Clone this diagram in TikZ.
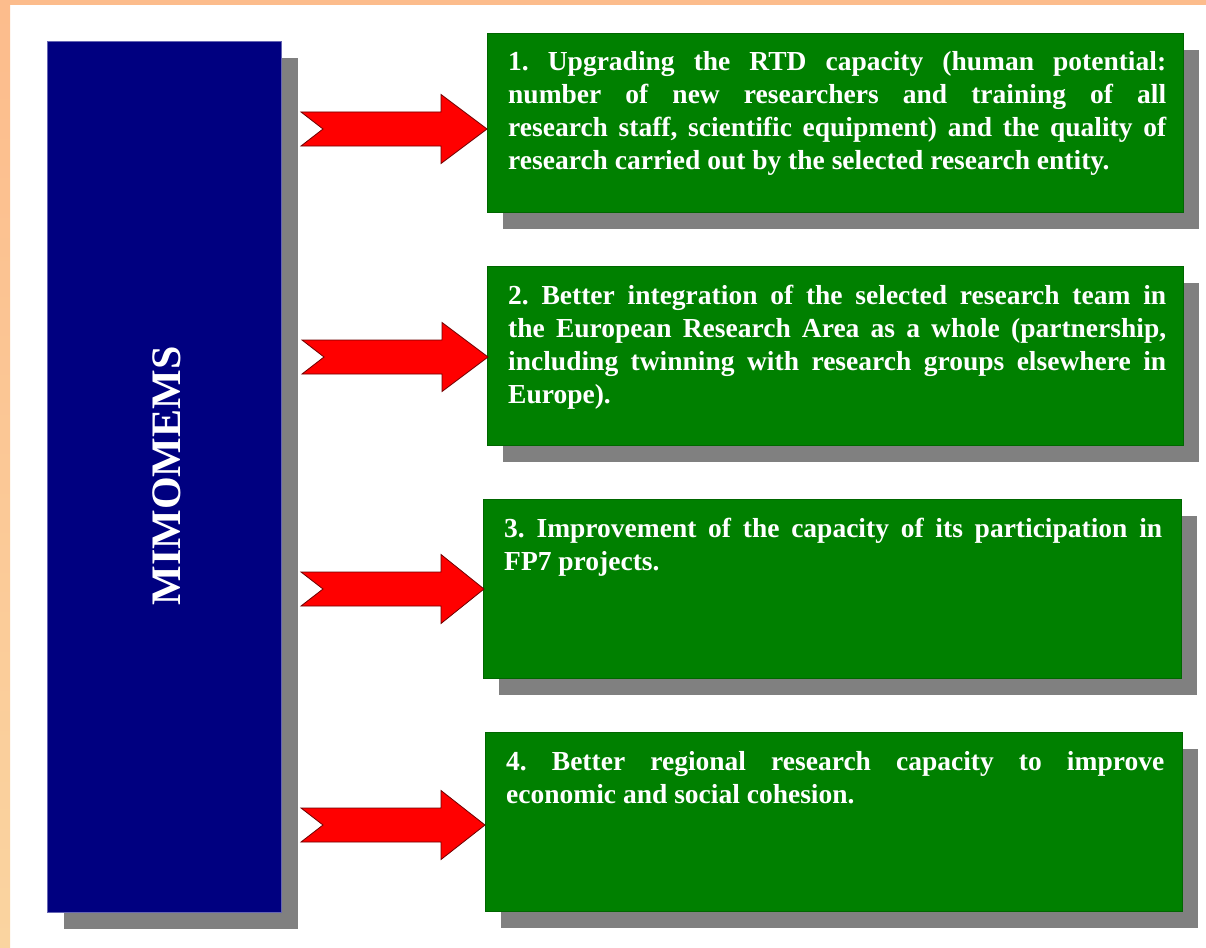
\documentclass[tikz,border=0pt]{standalone}
\usepackage{fontspec}
\setmainfont{Liberation Serif}
\hbadness=10000 \hfuzz=20pt
\frenchspacing
\definecolor{navybox}{RGB}{0,0,128}
\definecolor{greenbox}{RGB}{0,128,0}
\definecolor{shadowgrey}{RGB}{128,128,128}
\definecolor{arrowred}{RGB}{255,0,0}
\definecolor{arrowedge}{RGB}{110,0,0}
\definecolor{orangetop}{RGB}{252,188,140}
\definecolor{orangebot}{RGB}{250,212,160}
\begin{document}
\begin{tikzpicture}[x=1pt,y=-1pt,
  shadowbox/.style={fill=shadowgrey,draw=none},
  greenrect/.style={fill=greenbox,draw=greenbox!80!black,line width=0.6pt},
  bluerect/.style={fill=navybox,draw=navybox!60!white,line width=0.6pt},
  boxtext/.style={anchor=base west,inner sep=0pt,text width=658pt,align=justify,text=white,
    font=\bfseries\fontsize{27.5}{33}\selectfont},
  blockarrow/.style={fill=arrowred,draw=arrowedge,line width=0.8pt,line join=miter}]
\useasboundingbox (0,0) rectangle (1206,947);
\fill[white] (0,0) rectangle (1206,947);
% orange frame
\fill[orangetop] (0,0) rectangle (1206,5);
\shade[top color=orangetop,bottom color=orangebot,draw=none] (0,0) rectangle (10,947);
% blue box
\fill[shadowbox] (64,58) rectangle (298,929);
\draw[bluerect] (47,41) rectangle (281,912);
\node[rotate=90,text=white,font=\bfseries\fontsize{42}{48}\selectfont,inner sep=0pt] (mimo) at (167,476) {MIMOMEMS};
% green boxes
\fill[shadowbox] (503,50) rectangle (1199,229);
\draw[greenrect] (487,33) rectangle (1183,212);
\fill[shadowbox] (503,283) rectangle (1199,462);
\draw[greenrect] (487,266) rectangle (1183,445);
\fill[shadowbox] (499,516) rectangle (1197,695);
\draw[greenrect] (483,499) rectangle (1181,678);
\fill[shadowbox] (501,749) rectangle (1198,928);
\draw[greenrect] (485,732) rectangle (1182,911);
\node[boxtext] (t1) at (508,71) {1. Upgrading the RTD capacity (human potential:\linebreak number of new researchers and training of all\linebreak research staff, scientific equipment) and the quality of\linebreak research carried out by the selected research entity.};
\node[boxtext] (t2) at (508,304) {2. Better integration of the selected research team in\linebreak the European Research Area as a whole (partnership,\linebreak including twinning with research groups elsewhere in\linebreak Europe).};
\node[boxtext] (t3) at (504,537) {3. Improvement of the capacity of its participation in\linebreak FP7 projects.};
\node[boxtext] (t4) at (506,770) {4. Better regional research capacity to improve\linebreak economic and social cohesion.};
% arrows
\coordinate (a1) at (301,129);
\coordinate (a2) at (302,357);
\coordinate (a3) at (301,589);
\coordinate (a4) at (301,825);
\foreach \a/\tip in {a1/487,a2/487,a3/484,a4/485}{
  \draw[blockarrow] (\a) ++(0,-17) -- ++(140,0) -- ++(0,-17.5) -- ++(\tip-301-140,34.5)
    -- ++(301+140-\tip,34.5) -- ++(0,-17.5) -- ++(-140,0) -- ++(22,-17) -- cycle;
}
\end{tikzpicture}
\end{document}
